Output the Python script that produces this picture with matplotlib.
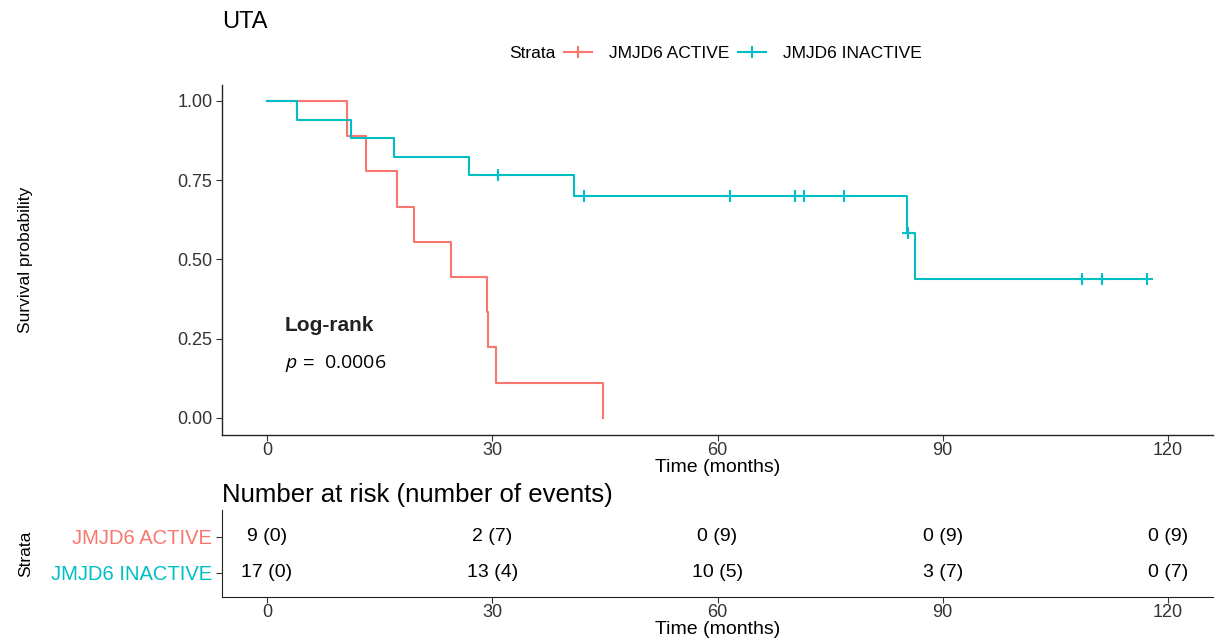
import matplotlib
matplotlib.use("Agg")
import matplotlib.pyplot as plt
from matplotlib.lines import Line2D
import numpy as np

plt.rcParams['font.family'] = ['Liberation Sans', 'DejaVu Sans']
plt.rcParams['mathtext.fontset'] = 'custom'
plt.rcParams['mathtext.it'] = 'Open Sans:italic'
plt.rcParams['mathtext.rm'] = 'Open Sans'

# datos (tiempo en meses, 1 = evento, 0 = censura)
act_time = [10.6, 13.2, 17.3, 19.6, 24.5, 29.3, 29.4, 30.5, 44.8]
act_event = [1, 1, 1, 1, 1, 1, 1, 1, 1]
inact_time = [4.0, 11.2, 16.9, 26.9, 30.8, 40.9, 42.2, 61.6, 70.3, 71.5, 76.9,
              85.2, 85.4, 86.3, 108.6, 111.2, 117.2]
inact_event = [1, 1, 1, 1, 0, 1, 0, 0, 0, 0, 0, 1, 0, 1, 0, 0, 0]

groups = ['JMJD6 ACTIVE', 'JMJD6 INACTIVE']
colors = ['#F8766D', '#00BFC4']

# tabla de riesgo
risk_times = [0, 30, 60, 90, 120]
risk_active = [9, 2, 0, 0, 0]
events_active = [0, 7, 9, 9, 9]
risk_inactive = [17, 13, 10, 3, 0]
events_inactive = [0, 4, 5, 7, 7]


def km(times, events):
    t = np.array(times)
    e = np.array(events)
    order = np.argsort(t, kind='stable')
    t, e = t[order], e[order]
    n = len(t)
    xs, ys = [0.0], [1.0]
    s = 1.0
    cens_x, cens_y = [], []
    for i in range(n):
        at_risk = n - i
        if e[i] == 1:
            s = s * (at_risk - 1) / at_risk
            xs.append(t[i])
            ys.append(s)
        else:
            cens_x.append(t[i])
            cens_y.append(s)
    xs.append(t[-1])
    ys.append(s)
    return xs, ys, cens_x, cens_y


fig = plt.figure(figsize=(12.15, 6.4), dpi=100)
ax = fig.add_axes([222/1215, 1-435/640, (1213-222)/1215, (435-85)/640])

for (tt, ee), col in zip([(act_time, act_event), (inact_time, inact_event)], colors):
    xs, ys, cx, cy = km(tt, ee)
    ax.step(xs, ys, where='post', color=col, lw=1.5)
    ax.plot(cx, cy, ls='none', marker='+', ms=9, mew=1.5, color=col)

ax.set_xlim(-6, 126)
ax.set_ylim(-0.054, 1.05)
ax.set_xticks([0, 30, 60, 90, 120])
ax.set_yticks([0, 0.25, 0.5, 0.75, 1.0])
ax.set_yticklabels(['0.00', '0.25', '0.50', '0.75', '1.00'])
ax.tick_params(labelsize=13, colors='#333333', length=4, width=0.8)
ax.tick_params(axis='x', pad=1)
ax.tick_params(axis='y', pad=3)
for sp in ['top', 'right']:
    ax.spines[sp].set_visible(False)
for sp in ['left', 'bottom']:
    ax.spines[sp].set_linewidth(1.0)
    ax.spines[sp].set_color('#222222')
ax.set_xlabel('Time (months)', fontsize=14, labelpad=0)
ax.set_ylabel('Survival probability', fontsize=12.5)
ax.yaxis.set_label_coords(-0.191, 0.5)

ax.text(2.4, 0.29, 'Log-rank', fontsize=15, fontweight='bold', color='#222222',
        va='center')
ax.text(2.4, 0.172, r'$p$ =  $\mathrm{0.0006}$', fontsize=14, va='center')

fig.text(222/1215, 1-22/640, 'UTA', fontsize=17, va='center', ha='left')

# leyenda
fig.text(509/1215, 1-53/640, 'Strata', fontsize=12.5, va='center', ha='left')
handles = [Line2D([], [], color=c, marker='+', ms=9, mew=1.5, lw=1.5) for c in colors]
fig.legend(handles, groups, loc='center left', bbox_to_anchor=(564/1215, 1-53/640),
           ncol=2, frameon=False, fontsize=12.5, handlelength=1.6, handletextpad=1.0,
           columnspacing=0.5, borderpad=0, borderaxespad=0)

# tabla de numero en riesgo
ax2 = fig.add_axes([222/1215, 1-597/640, (1213-222)/1215, (597-510)/640])
ax2.set_xlim(-6, 126)
ax2.set_ylim(0.33, 2.75)
for i, t in enumerate(risk_times):
    ax2.text(t, 2, '%d (%d)' % (risk_active[i], events_active[i]), ha='center',
             va='center', fontsize=14)
    ax2.text(t, 1, '%d (%d)' % (risk_inactive[i], events_inactive[i]), ha='center',
             va='center', fontsize=14)
ax2.set_xticks(risk_times)
ax2.set_yticks([2, 1])
ax2.set_yticklabels(groups, fontsize=14.5)
for lab, c in zip(ax2.get_yticklabels(), colors):
    lab.set_color(c)
ax2.tick_params(axis='x', labelsize=13, colors='#333333', length=4, width=0.8, pad=1)
ax2.tick_params(axis='y', length=4, width=0.8, color='#333333', pad=3)
for sp in ['top', 'right']:
    ax2.spines[sp].set_visible(False)
for sp in ['left', 'bottom']:
    ax2.spines[sp].set_color('#222222')
ax2.set_xlabel('Time (months)', fontsize=14, labelpad=0)
ax2.set_ylabel('Strata', fontsize=12.5)
ax2.yaxis.set_label_coords(-0.191, 0.5)
fig.text(222/1215, 1-495/640, 'Number at risk (number of events)', fontsize=18.5,
         va='center', ha='left')

fig.savefig('out.png', dpi=100)
